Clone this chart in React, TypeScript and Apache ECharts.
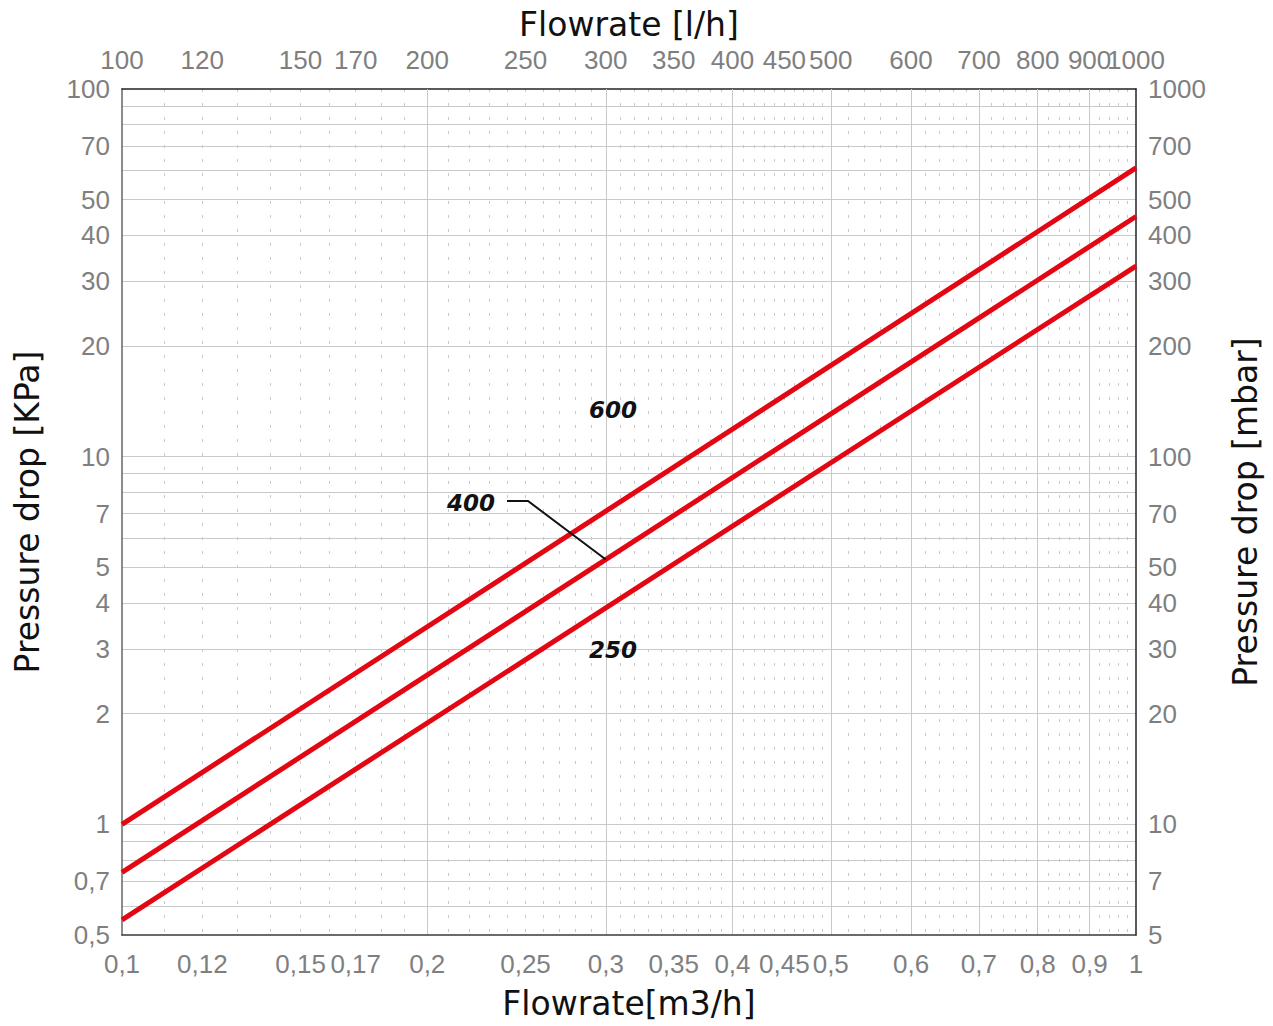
import React, { useEffect, useRef } from "react";
import * as echarts from "echarts";

// Flow range end points (m3/h) and pressure drop (kPa) for each valve size
const flowEnds = [0.1, 1];
const drop600 = [1.0, 61];
const drop400 = [0.74, 45];
const drop250 = [0.55, 33];

// Tick labels
const bottomLabels = [0.1, 0.12, 0.15, 0.17, 0.2, 0.25, 0.3, 0.35, 0.4, 0.45, 0.5, 0.6, 0.7, 0.8, 0.9, 1];
const topLabels = [100, 120, 150, 170, 200, 250, 300, 350, 400, 450, 500, 600, 700, 800, 900];
const topEndLabel = [1000];
const leftLabels = [0.5, 0.7, 1, 2, 3, 4, 5, 7, 10, 20, 30, 40, 50, 70, 100];
const rightLabels = [5, 7, 10, 20, 30, 40, 50, 70, 100, 200, 300, 400, 500, 700, 1000];

// Grid line positions
const xMajorGrid = [0.2, 0.3, 0.4, 0.5, 0.6, 0.7, 0.8, 0.9];
const xMinorGrid = [
  0.11, 0.12, 0.13, 0.14, 0.15, 0.16, 0.17, 0.18, 0.19,
  0.21, 0.22, 0.23, 0.24, 0.25, 0.26, 0.27, 0.28, 0.29,
  0.31, 0.32, 0.33, 0.34, 0.35, 0.36, 0.37, 0.38, 0.39,
  0.41, 0.42, 0.43, 0.44, 0.45, 0.46, 0.47, 0.48, 0.49,
  0.52, 0.54, 0.56, 0.58, 0.62, 0.64, 0.66, 0.68,
  0.72, 0.74, 0.76, 0.78, 0.82, 0.84, 0.86, 0.88,
  0.92, 0.94, 0.96, 0.98,
];
const yGrid = [0.6, 0.7, 0.8, 0.9, 1, 2, 3, 4, 5, 6, 7, 8, 9, 10, 20, 30, 40, 50, 60, 70, 80, 90];

const LABEL_FONT = "'Liberation Sans', Arial, sans-serif";
const TITLE_FONT = "'DejaVu Sans', sans-serif";
const LABEL_COLOR = "#7f7f7f";
const GRID_COLOR = "#c9c9c9";
const FRAME_COLOR = "#3a3a3a";
const RED = "#e30613";

const fmt = (v: number) => String(+Number(v).toFixed(4)).replace(".", ",");

const toPairs = (ys: number[]) => flowEnds.map((x, i) => [x, ys[i]]);

export default function App() {
  const ref = useRef<HTMLDivElement>(null);

  useEffect(() => {
    const chart = echarts.init(ref.current!, null, { renderer: "svg" });

    const axisLabel = (values: number[], margin: number) => ({
      customValues: values,
      color: LABEL_COLOR,
      fontSize: 26,
      fontFamily: LABEL_FONT,
      margin,
      showMinLabel: true,
      showMaxLabel: true,
      formatter: (v: number) => fmt(v),
    });

    const nameStyle = { color: "#111", fontSize: 33, fontFamily: TITLE_FONT };

    chart.setOption({
      animation: false,
      backgroundColor: "#ffffff",
      grid: { left: 122, right: 137, top: 89, bottom: 91, containLabel: false },
      xAxis: [
        {
          type: "log",
          position: "bottom",
          min: 0.1,
          max: 1,
          name: "Flowrate[m3/h]",
          nameLocation: "middle",
          nameGap: 52,
          nameTextStyle: nameStyle,
          axisLine: { show: true, onZero: false, lineStyle: { color: FRAME_COLOR, width: 1.5 } },
          axisTick: { show: false, customValues: xMajorGrid },
          axisLabel: axisLabel(bottomLabels, 16),
          splitLine: { show: true, lineStyle: { color: GRID_COLOR, width: 1 } },
          minorSplitLine: { show: false },
          z: 3,
        },
        {
          type: "log",
          position: "bottom",
          min: 0.1,
          max: 1,
          axisLine: { show: false, onZero: false },
          axisTick: { show: false, customValues: xMinorGrid },
          axisLabel: { show: false },
          splitLine: { show: true, lineStyle: { color: GRID_COLOR, width: 1, type: [3, 11] } },
        },
        {
          type: "log",
          position: "top",
          min: 100,
          max: 1000,
          name: "Flowrate [l/h]",
          nameLocation: "middle",
          nameGap: 48,
          nameTextStyle: nameStyle,
          axisLine: { show: true, onZero: false, lineStyle: { color: "#222", width: 1.5 } },
          axisTick: { show: false },
          axisLabel: axisLabel(topLabels, 16),
          splitLine: { show: false },
        },
        {
          // end label of the l/h scale, kept on its own so it sits next to "900"
          type: "log",
          position: "top",
          min: 100,
          max: 1000,
          axisLine: { show: false, onZero: false },
          axisTick: { show: false },
          axisLabel: axisLabel(topEndLabel, 16),
          splitLine: { show: false },
        },
      ],
      yAxis: [
        {
          type: "log",
          position: "left",
          min: 0.5,
          max: 100,
          name: "Pressure drop [KPa]",
          nameLocation: "middle",
          nameGap: 78,
          nameTextStyle: nameStyle,
          axisLine: { show: true, onZero: false, lineStyle: { color: "#666", width: 1.5 } },
          axisTick: { show: false, customValues: yGrid },
          axisLabel: axisLabel(leftLabels, 12),
          splitLine: { show: true, lineStyle: { color: GRID_COLOR, width: 1 } },
        },
        {
          type: "log",
          position: "right",
          min: 5,
          max: 1000,
          name: "Pressure drop [mbar]",
          nameLocation: "middle",
          nameGap: 93,
          nameTextStyle: nameStyle,
          axisLine: { show: true, onZero: false, lineStyle: { color: "#222", width: 1.5 } },
          axisTick: { show: false },
          axisLabel: axisLabel(rightLabels, 12),
          splitLine: { show: false },
        },
      ],
      series: [
        { name: "600", data: toPairs(drop600) },
        { name: "400", data: toPairs(drop400) },
        { name: "250", data: toPairs(drop250) },
      ].map((s) => ({
        ...s,
        type: "line",
        xAxisIndex: 0,
        yAxisIndex: 0,
        showSymbol: false,
        symbol: "none",
        lineStyle: { color: RED, width: 5 },
        z: 5,
      })),
    });

    // Leader line from the "400" tag to its curve at 0.3 m3/h
    const exp400 = Math.log(drop400[1] / drop400[0]) / Math.log(flowEnds[1] / flowEnds[0]);
    const tagFlow = 0.3;
    const tagDrop = drop400[0] * Math.pow(tagFlow / flowEnds[0], exp400);
    const end = chart.convertToPixel({ xAxisIndex: 0, yAxisIndex: 0 }, [tagFlow, tagDrop]) as number[];

    const tagStyle = {
      fill: "#111",
      font: "italic bold 23px 'DejaVu Sans', sans-serif",
      textAlign: "center",
      textVerticalAlign: "middle",
    };

    chart.setOption({
      graphic: [
        { type: "text", x: 613, y: 410, z: 10, style: { ...tagStyle, text: "600" } },
        { type: "text", x: 471, y: 503, z: 10, style: { ...tagStyle, text: "400" } },
        { type: "text", x: 613, y: 650, z: 10, style: { ...tagStyle, text: "250" } },
        {
          type: "polyline",
          z: 10,
          shape: { points: [[507, 501], [528, 501], [end[0], end[1]]] },
          style: { stroke: "#111", lineWidth: 2, fill: "none" },
        },
      ],
    });

    return () => chart.dispose();
  }, []);

  return (
    <div
      ref={ref}
      style={{ position: "absolute", left: 0, top: 0, width: 1273, height: 1026, background: "#fff" }}
    />
  );
}
